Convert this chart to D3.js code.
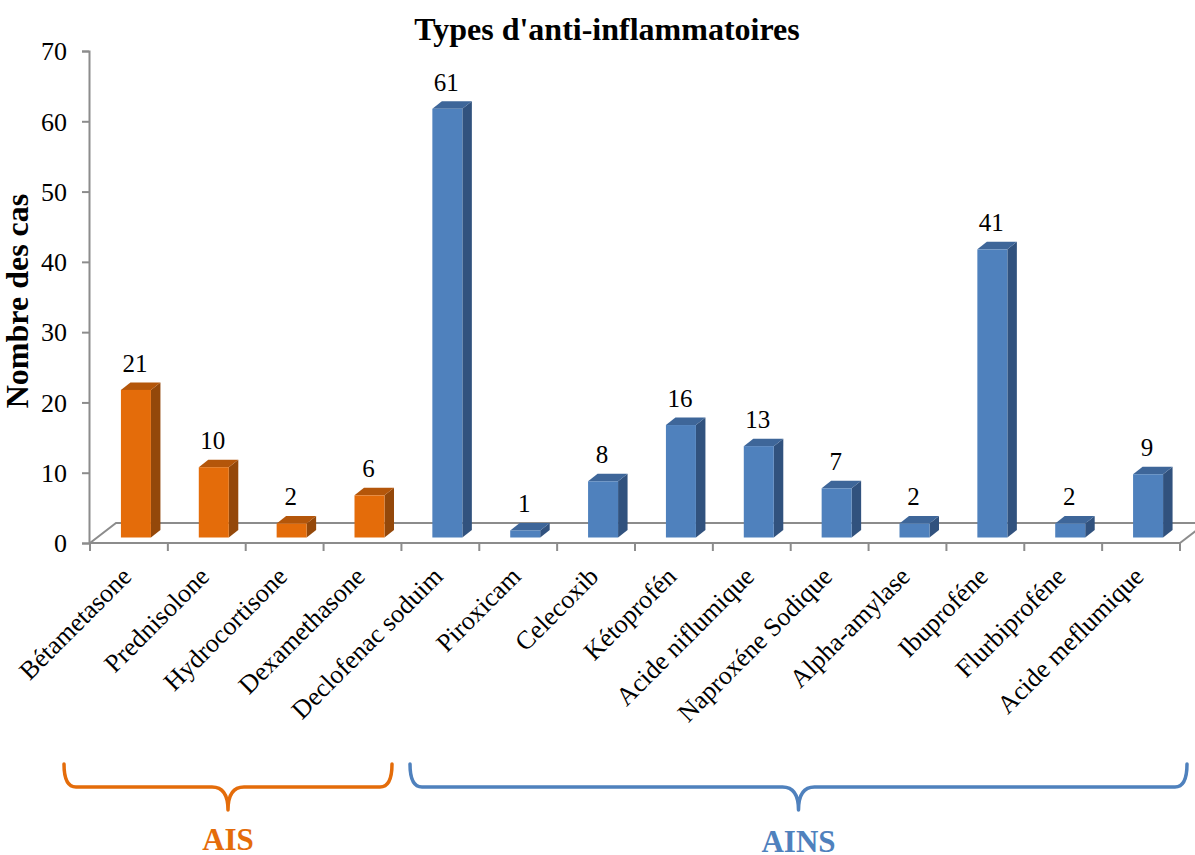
<!DOCTYPE html>
<html>
<head>
<meta charset="utf-8">
<script src="https://cdn.jsdelivr.net/npm/d3@7"></script>
<style>
  html, body { margin: 0; padding: 0; background: #fff; }
  svg { display: block; }
  svg text { font-family: "Liberation Serif", "Times New Roman", serif; }
</style>
</head>
<body>
<svg id="chart" width="1195" height="855"></svg>
<script>
// Anti-inflammatory types and case counts
const categories = [
  "Bétametasone", "Prednisolone", "Hydrocortisone", "Dexamethasone",
  "Declofenac soduim", "Piroxicam", "Celecoxib", "Kétoprofén",
  "Acide niflumique", "Naproxéne Sodique", "Alpha-amylase", "Ibuprofène",
  "Flurbiprofène", "Acide meflumique"
];
const values = [21, 10, 2, 6, 61, 1, 8, 16, 13, 7, 2, 41, 2, 9];
const groups = ["AIS", "AIS", "AIS", "AIS", "AINS", "AINS", "AINS", "AINS", "AINS", "AINS", "AINS", "AINS", "AINS", "AINS"];
const yTicks = [0, 10, 20, 30, 40, 50, 60, 70];
const groupLabels = ["AIS", "AINS"];

// Displayed labels use the accents as written on the chart
const displayCategories = categories.map(c => c.replace("è", "é"));

const SERIF = '"Liberation Serif", "Times New Roman", serif';

const palette = {
  AIS:  { front: "#E46C0A", top: "#B4560A", side: "#94480A", text: "#E46C0A" },
  AINS: { front: "#4F81BD", top: "#3E6699", side: "#31527E", text: "#4F81BD" }
};

const svg = d3.select("#chart");

const x = d3.scaleBand().domain(categories).range([90, 1180]).paddingInner(0).paddingOuter(0);
const y = d3.scaleLinear().domain([0, 70]).range([543, 51]);

// Floor depth and bar depth offsets for the 3-D look
const floorD = { dx: 26, dy: -20 };
const barShift = { dx: 7, dy: -5.5 };
const barD = { dx: 9.5, dy: -7.5 };
const barW = 30;

const axisColor = "#8C8C8C";

// Floor
const floor = svg.append("g").attr("stroke", axisColor).attr("stroke-width", 2).attr("fill", "none");
floor.append("path").attr("d",
  `M${x.range()[0]},${y(0)} L${x.range()[0] + floorD.dx},${y(0) + floorD.dy} L${x.range()[1] + floorD.dx},${y(0) + floorD.dy}`);
floor.append("path").attr("d",
  `M${x.range()[1]},${y(0)} L${x.range()[1] + floorD.dx},${y(0) + floorD.dy}`);

// Y axis
const yAxis = d3.axisLeft(y).tickValues(yTicks).tickSize(7).tickPadding(15).tickSizeOuter(7);
const gy = svg.append("g").attr("transform", "translate(89,0)").call(yAxis)
  .attr("font-family", null).attr("font-size", null);
gy.select(".domain").attr("stroke", axisColor).attr("stroke-width", 2);
gy.selectAll(".tick line").attr("stroke", axisColor).attr("stroke-width", 2);
gy.selectAll(".tick text").attr("fill", "#000")
  .style("font-family", SERIF).style("font-size", "26px").attr("dy", "0.34em");

// X axis (front floor edge)
const boundaries = d3.range(categories.length + 1).map(i => x.range()[0] + i * x.step());
const gx = svg.append("g");
gx.append("line").attr("x1", x.range()[0]).attr("x2", x.range()[1])
  .attr("y1", y(0)).attr("y2", y(0)).attr("stroke", axisColor).attr("stroke-width", 2);
gx.selectAll("line.tk").data(boundaries).join("line").attr("class", "tk")
  .attr("x1", d => d).attr("x2", d => d).attr("y1", y(0)).attr("y2", y(0) + 8)
  .attr("stroke", axisColor).attr("stroke-width", 2);

gx.selectAll("text.cat").data(categories).join("text").attr("class", "cat")
  .attr("transform", d => `translate(${x(d) + x.bandwidth() / 2 + 4},${y(0) + 35}) rotate(-45)`)
  .attr("text-anchor", "end")
  .style("font-family", SERIF).style("font-size", "26px")
  .attr("fill", "#000")
  .text((d, i) => displayCategories[i]);

// Bars
const bars = svg.append("g").selectAll("g.bar").data(categories).join("g").attr("class", "bar");
bars.each(function (d, i) {
  const g = d3.select(this);
  const col = palette[groups[i]];
  const x0 = x(d) + x.bandwidth() / 2 - barW / 2 + barShift.dx;
  const x1 = x0 + barW;
  const yb = y(0) + barShift.dy;
  const yt = y(values[i]) + barShift.dy;
  // side face
  g.append("path").attr("fill", col.side).attr("d",
    `M${x1},${yb} L${x1 + barD.dx},${yb + barD.dy} L${x1 + barD.dx},${yt + barD.dy} L${x1},${yt} Z`);
  // top face
  g.append("path").attr("fill", col.top).attr("d",
    `M${x0},${yt} L${x0 + barD.dx},${yt + barD.dy} L${x1 + barD.dx},${yt + barD.dy} L${x1},${yt} Z`);
  // front face
  g.append("rect").attr("x", x0).attr("y", yt).attr("width", barW).attr("height", yb - yt)
    .attr("fill", col.front);
  // value label
  g.append("text").attr("x", x0 + barW / 2 - 1).attr("y", yt - 18)
    .attr("text-anchor", "middle")
    .style("font-family", SERIF).style("font-size", "25px").attr("fill", "#000")
    .text(values[i]);
});

// Title
svg.append("text").attr("x", 607).attr("y", 40).attr("text-anchor", "middle")
  .style("font-family", SERIF).style("font-size", "32px").attr("font-weight", "bold").attr("fill", "#000")
  .text("Types d'anti-inflammatoires");

// Y axis title
svg.append("text").attr("transform", "translate(28,301) rotate(-90)")
  .attr("text-anchor", "middle")
  .style("font-family", SERIF).style("font-size", "32px").attr("font-weight", "bold").attr("fill", "#000")
  .text("Nombre des cas");

// Group braces
function brace(x0, x1, xm, yTop, yLine, yTip) {
  const r = 12, c = 16;
  return `M${x0},${yTop} Q${x0},${yLine} ${x0 + r},${yLine} ` +
    `L${xm - c},${yLine} Q${xm},${yLine} ${xm},${yTip} ` +
    `Q${xm},${yLine} ${xm + c},${yLine} L${x1 - r},${yLine} Q${x1},${yLine} ${x1},${yTop}`;
}
const braceData = [
  { label: groupLabels[0], x0: 64, x1: 392, color: palette.AIS.text },
  { label: groupLabels[1], x0: 410, x1: 1187, color: palette.AINS.text }
];
const gb = svg.append("g");
braceData.forEach(b => {
  const xm = (b.x0 + b.x1) / 2;
  gb.append("path").attr("d", brace(b.x0, b.x1, xm, 764, 787, 810))
    .attr("fill", "none").attr("stroke", b.color).attr("stroke-width", 3.5)
    .attr("stroke-linecap", "round").attr("stroke-linejoin", "round");
  gb.append("text").attr("x", xm).attr("y", b.label === "AIS" ? 850 : 852)
    .attr("text-anchor", "middle")
    .style("font-family", SERIF).style("font-size", "31px").attr("font-weight", "bold")
    .attr("fill", b.color).text(b.label);
});
</script>
</body>
</html>
